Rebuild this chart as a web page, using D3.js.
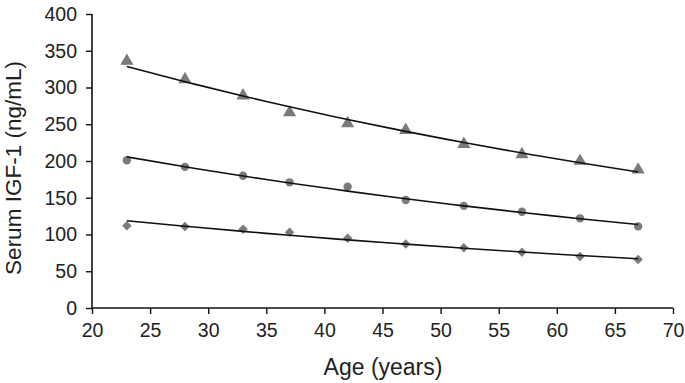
<!DOCTYPE html>
<html>
<head>
<meta charset="utf-8">
<script src="https://cdn.jsdelivr.net/npm/d3@7"></script>
<style>
  body { margin: 0; background: #fff; }
  svg text { font-family: "Liberation Sans", Arial, sans-serif; fill: #222; }
</style>
</head>
<body>
<svg id="chart" width="685" height="383"></svg>
<script>
// ages where each group was measured
const ages = [23, 28, 33, 37, 42, 47, 52, 57, 62, 67]
// serum IGF-1 values (ng/mL)
const upperVals = [336, 311, 289, 266, 251, 242, 223, 209, 200, 188]
const middleVals = [201, 192, 180, 171, 165, 147, 139, 131, 122, 111]
const lowerVals = [112, 111, 107, 103, 95, 87, 82, 76, 70, 66]
const xTicks = [20, 25, 30, 35, 40, 45, 50, 55, 60, 65, 70]
const yTicks = [0, 50, 100, 150, 200, 250, 300, 350, 400]

const width = 685, height = 383
const margin = {top: 14, right: 12, bottom: 75, left: 92}

const svg = d3.select('#chart')

const x = d3.scaleLinear().domain([20, 70]).range([margin.left, width - margin.right])
const y = d3.scaleLinear().domain([0, 400]).range([height - margin.bottom, margin.top])

// axes
const xAxis = svg.append('g')
    .attr('transform', `translate(0,${height - margin.bottom})`)
    .call(d3.axisBottom(x).tickValues(xTicks).tickSize(6).tickPadding(9))
const yAxis = svg.append('g')
    .attr('transform', `translate(${margin.left},0)`)
    .call(d3.axisLeft(y).tickValues(yTicks).tickSize(6).tickPadding(9))

svg.selectAll('.domain').attr('stroke', '#111').attr('stroke-width', 1.6)
svg.selectAll('.tick line').attr('stroke', '#111').attr('stroke-width', 1.4)
svg.selectAll('.tick text').style('font-size', '19.5px').attr('fill', '#222')
xAxis.select('.domain').attr('d', `M${x(20)},0H${x(70)}`)
yAxis.select('.domain').attr('d', `M0,${y(400)}V${y(0)}`)

// axis titles
svg.append('text')
    .attr('x', 383)
    .attr('y', 375)
    .attr('text-anchor', 'middle')
    .style('font-size', '23px')
    .text('Age (years)')
svg.append('text')
    .attr('transform', `translate(21,168) rotate(-90)`)
    .attr('text-anchor', 'middle')
    .style('font-size', '22.5px')
    .text('Serum IGF-1 (ng/mL)')

// exponential trendline (least squares on log values), like the spreadsheet fit
function expFit(vals) {
    const lx = ages, ly = vals.map(v => Math.log(v))
    const mx = d3.mean(lx), my = d3.mean(ly)
    const b = d3.sum(lx, (a, i) => (a - mx) * (ly[i] - my)) / d3.sum(lx, a => (a - mx) ** 2)
    const a = Math.exp(my - b * mx)
    return ages.map(t => a * Math.exp(b * t))
}

const series = [
    {vals: upperVals, sym: d3.symbolTriangle, size: 75},
    {vals: middleVals, sym: d3.symbolCircle, size: 55},
    {vals: lowerVals, sym: d3.symbolSquare, size: 45, rot: 45}
]

const line = d3.line()
    .x((d, i) => x(ages[i]))
    .y(d => y(d))
    .curve(d3.curveNatural)

series.forEach(s => {
    svg.append('g')
        .selectAll('path')
        .data(s.vals)
        .enter()
        .append('path')
        .attr('d', d3.symbol().type(s.sym).size(s.size))
        .attr('transform', (d, i) => `translate(${x(ages[i])},${y(d)}) rotate(${s.rot || 0})`)
        .style('fill', '#7b7b7b')
    svg.append('path')
        .datum(expFit(s.vals))
        .attr('d', line)
        .attr('fill', 'none')
        .attr('stroke', '#111')
        .attr('stroke-width', 1.6)
})
</script>
</body>
</html>
